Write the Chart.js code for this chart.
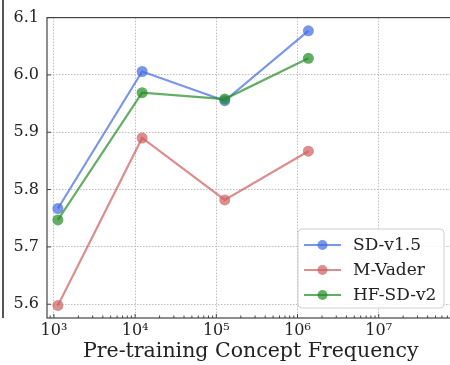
<!DOCTYPE html>
<html><head><meta charset="utf-8">
<script src="https://cdn.jsdelivr.net/npm/chart.js@4"></script>
<style>
html,body{margin:0;padding:0;overflow:hidden;background:#fff;width:450px;height:365px}
#wrap{position:absolute;left:0;top:0;width:460px;height:365px}
#edge{position:absolute;left:2px;top:0;width:1.5px;height:318px;background:#555}
</style></head><body>
<div id="wrap"><canvas id="c" width="460" height="365"></canvas></div>
<div id="edge"></div>
<script>
const frequencies = [1120, 12200, 127000, 1360000];
const seriesNames = ['SD-v1.5', 'M-Vader', 'HF-SD-v2'];
const sdV15  = [5.767, 6.006, 5.955, 6.077];
const mVader = [5.598, 5.890, 5.782, 5.867];
const hfSdV2 = [5.747, 5.969, 5.958, 6.029];
const xTicks = [1e3, 1e4, 1e5, 1e6, 1e7];
const xTickLabels = ['10³', '10⁴', '10⁵', '10⁶', '10⁷'];
const yTicks = [5.6, 5.7, 5.8, 5.9, 6.0, 6.1];
const xTitle = 'Pre-training Concept Frequency';

const colors = ['rgba(65,105,225,0.7)', 'rgba(205,92,92,0.7)', 'rgba(34,139,34,0.7)'];
const serif = '"DejaVu Serif", serif';

const toPts = arr => arr.map((v, i) => ({x: frequencies[i], y: v}));
const seriesValues = [sdV15, mVader, hfSdV2];
const drawOrder = [2, 1, 0];

const frame = {
  id: 'frame',
  afterDraw(chart) {
    const {ctx, chartArea: a, scales: {x, y}} = chart;
    ctx.save();
    ctx.strokeStyle = '#444';
    ctx.lineWidth = 1.2;
    ctx.strokeRect(a.left, a.top, a.right - a.left, a.bottom - a.top);
    ctx.lineWidth = 1;
    ctx.beginPath();
    xTicks.forEach(v => {
      const px = x.getPixelForValue(v);
      ctx.moveTo(px, a.bottom); ctx.lineTo(px, a.bottom - 4);
      for (let m = 2; m <= 9; m++) {
        const mv = v * m;
        if (mv > x.max) break;
        const mp = x.getPixelForValue(mv);
        ctx.moveTo(mp, a.bottom); ctx.lineTo(mp, a.bottom - 2.5);
      }
    });
    for (let m = 2; m <= 9; m++) {
      const mv = 100 * m;
      if (mv >= x.min) { const mp = x.getPixelForValue(mv); ctx.moveTo(mp, a.bottom); ctx.lineTo(mp, a.bottom - 2.5); }
    }
    yTicks.forEach(v => {
      const py = y.getPixelForValue(v);
      ctx.moveTo(a.left, py); ctx.lineTo(a.left + 4, py);
    });
    ctx.stroke();
    const lx = 298, ly = 229, lw = 146, lh = 79, r = 4;
    ctx.beginPath();
    ctx.moveTo(lx + r, ly);
    ctx.arcTo(lx + lw, ly, lx + lw, ly + lh, r);
    ctx.arcTo(lx + lw, ly + lh, lx, ly + lh, r);
    ctx.arcTo(lx, ly + lh, lx, ly, r);
    ctx.arcTo(lx, ly, lx + lw, ly, r);
    ctx.closePath();
    ctx.fillStyle = 'rgba(255,255,255,0.85)';
    ctx.fill();
    ctx.strokeStyle = '#d0d0d0';
    ctx.lineWidth = 1;
    ctx.stroke();
    seriesNames.forEach((name, i) => {
      const ry = 245 + i * 25;
      ctx.strokeStyle = colors[i];
      ctx.lineWidth = 2;
      ctx.beginPath(); ctx.moveTo(304, ry); ctx.lineTo(341, ry); ctx.stroke();
      ctx.fillStyle = colors[i];
      ctx.beginPath(); ctx.arc(322.5, ry, 5, 0, Math.PI * 2); ctx.fill();
      ctx.fillStyle = '#222';
      ctx.font = '17px ' + serif;
      ctx.textBaseline = 'middle';
      ctx.textAlign = 'left';
      ctx.fillText(name, 353, ry + 1);
    });
    ctx.restore();
  }
};

new Chart(document.getElementById('c'), {
  type: 'line',
  data: {
    datasets: seriesNames.map((name, i) => ({
      label: name,
      data: toPts(seriesValues[i]),
      borderColor: colors[i],
      backgroundColor: colors[i],
      pointBackgroundColor: colors[i],
      pointBorderWidth: 0,
      pointRadius: 5.5,
      borderWidth: 2.2,
      tension: 0,
      order: drawOrder[i]
    }))
  },
  options: {
    responsive: false,
    animation: false,
    devicePixelRatio: 1,
    layout: {padding: {top: 15, left: 0, right: 0, bottom: 0}},
    plugins: {legend: {display: false}, tooltip: {enabled: false}},
    scales: {
      x: {
        type: 'logarithmic',
        position: 'bottom',
        min: 822,
        max: 8.57e7,
        afterBuildTicks: s => { s.ticks = xTicks.map(v => ({value: v})); },
        afterFit: s => { s.height = 47; },
        ticks: {
          autoSkip: false, maxRotation: 0, padding: 3,
          color: '#222', font: {family: serif, size: 16},
          callback: (v) => { const i = xTicks.indexOf(v); return i >= 0 ? xTickLabels[i] : ''; }
        },
        grid: {color: '#bdbdbd', lineWidth: 1, drawTicks: false, tickLength: 0},
        border: {display: false, dash: [1.5, 1.5]},
        title: {display: true, text: xTitle, color: '#222', font: {family: serif, size: 20.5}, padding: {top: 0, bottom: 1}}
      },
      y: {
        type: 'linear',
        min: 5.576,
        max: 6.1,
        afterBuildTicks: s => { s.ticks = yTicks.map(v => ({value: v})); },
        afterFit: s => { s.width = 47; },
        ticks: {
          padding: 8, color: '#222', font: {family: serif, size: 16},
          callback: v => v.toFixed(1)
        },
        grid: {color: '#bdbdbd', lineWidth: 1, drawTicks: false, tickLength: 0},
        border: {display: false, dash: [1.5, 1.5]}
      }
    }
  },
  plugins: [frame]
});
</script>
</body></html>
